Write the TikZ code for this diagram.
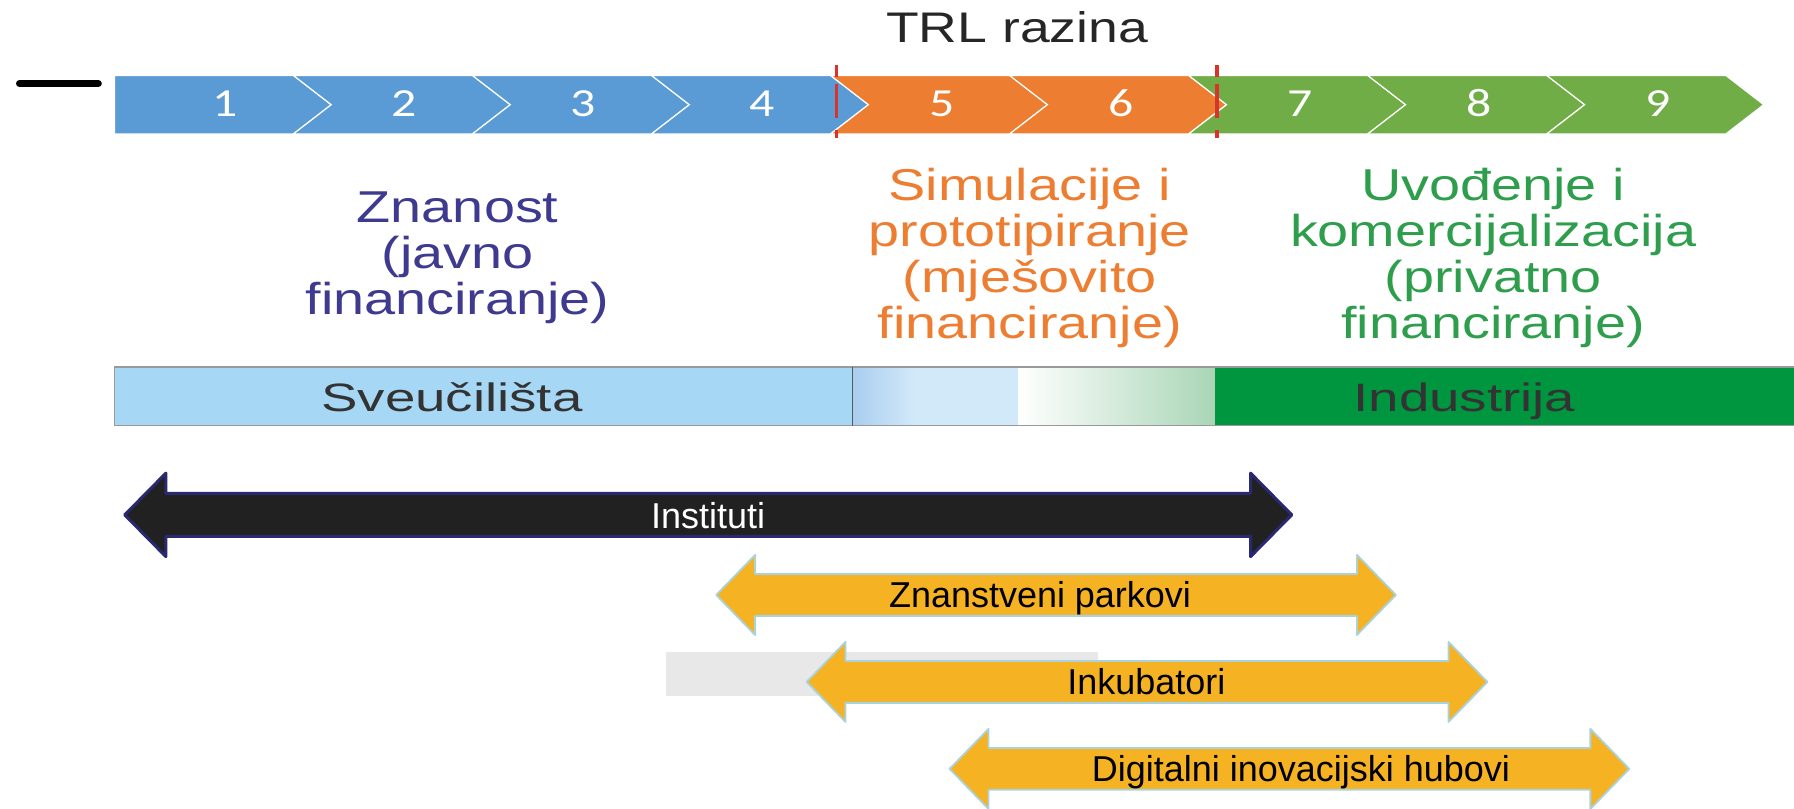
\documentclass[tikz,border=0pt]{standalone}
\usepackage{fontspec}
\setmainfont{Liberation Sans}
\newfontfamily\widefont[FakeStretch=1.25]{Liberation Sans}
\newfontfamily\barfont[FakeStretch=1.38]{Liberation Sans}
\newfontfamily\numfont[FakeStretch=1.25]{Carlito}
\definecolor{chevblue}{HTML}{5B9BD5}
\definecolor{chevorange}{HTML}{ED7D31}
\definecolor{chevgreen}{HTML}{70AD47}
\definecolor{sciencetext}{HTML}{3E3A8F}
\definecolor{industrytext}{HTML}{2E9E4C}
\definecolor{unifill}{HTML}{A6D8F5}
\definecolor{midblue}{HTML}{A9CDEF}
\definecolor{paleblue}{HTML}{D2E9F9}
\definecolor{palegreen}{HTML}{A9D5B6}
\definecolor{indfill}{HTML}{00963F}
\definecolor{arrowgold}{HTML}{F5B324}
\definecolor{arrowedge}{HTML}{A9D2DC}
\definecolor{navyedge}{HTML}{2A2970}
\definecolor{trlred}{HTML}{D9342B}
\tikzset{
  num/.style={text=white, anchor=base, inner sep=0, font=\numfont\fontsize{19.8}{22}\selectfont},
  phase/.style={align=center, anchor=base, inner sep=0, font=\widefont\fontsize{22.2}{22.8}\selectfont},
  bartext/.style={text=black!80, anchor=base, inner sep=0, font=\barfont\fontsize{19.7}{22}\selectfont},
  arrowlbl/.style={anchor=base, inner sep=0, font=\fontsize{17.9}{20}\selectfont},
  goldarrow/.style={fill=arrowgold, draw=arrowedge, line width=0.9pt, line join=round},
  trlline/.style={trlred, line width=1.8pt, dash pattern=on 5.7pt off 3.4pt on 17pt off 6.3pt on 4pt}
}
\begin{document}
\begin{tikzpicture}[x=0.02cm, y=-0.02cm]
  \useasboundingbox (0,0) rectangle (1568,707);
  \draw[line width=3.4pt, line cap=round] (17,73) -- (86,73);
  \node[font=\widefont\fontsize{21.3}{24}\selectfont, text=black!85, anchor=base, inner sep=0] (trl) at (889,37) {TRL razina};
  \foreach \i/\col in {1/chevblue,2/chevblue,3/chevblue,4/chevblue,5/chevorange,6/chevorange,7/chevgreen,8/chevgreen,9/chevgreen}{
    \pgfmathsetmacro\L{100+156.5*(\i-1)}
    \pgfmathsetmacro\notch{ifthenelse(\i==1,0,33)}
    \filldraw[fill=\col, draw=white, line width=0.6pt] (\L,66) -- ++(156.5,0) -- ++(33,25.5) -- ++(-33,25.5) -- ++(-156.5,0) -- ++(\notch,-25.5) -- cycle;
    \node[num] (lvl\i) at (\L+97,102) {\i};
  }
  \draw[trlline] (731,57) -- (731,124);
  \draw[trlline] (1063.5,57) -- (1063.5,124);
  \node[phase, text=sciencetext] (science) at (400,274.5) {Znanost\\(javno\\financiranje)};
  \node[phase, text=chevorange] (prototype) at (900,295.5) {Simulacije i\\prototipiranje\\(mješovito\\financiranje)};
  \node[phase, text=industrytext] (market) at (1305,295.5) {Uvođenje i\\komercijalizacija\\(privatno\\financiranje)};
  \fill[unifill] (100,321) rectangle (745,372);
  \shade[left color=midblue, right color=paleblue] (745,321) rectangle (800,372);
  \fill[paleblue] (800,321) rectangle (890,372);
  \shade[left color=white, right color=palegreen] (890,321) rectangle (1062,372);
  \fill[indfill] (1062,321) rectangle (1568,372);
  \draw[black!40, line width=0.8pt] (100,321) -- (1568,321) (100,372) -- (1568,372) (100,321) -- (100,372);
  \draw[black!65, line width=0.6pt] (745,321) -- (745,372);
  \node[bartext] (uni) at (395,359.7) {Sveučilišta};
  \node[bartext] (ind) at (1280,359.7) {Industrija};
  \filldraw[fill=black!87, draw=navyedge, line width=1.5pt, line join=round] (109,450) -- (145,413.5) -- (145,431.3) -- (1093,431.3) -- (1093,413.5) -- (1129,450) -- (1093,486.5) -- (1093,468.7) -- (145,468.7) -- (145,486.5) -- cycle;
  \node[arrowlbl, text=white] (inst) at (619,461.5) {Instituti};
  \fill[black!9] (582,570) rectangle (960,608);
  \foreach \xa/\xb/\yc/\xl/\txt/\nm in {626/1220/520/909/Znanstveni parkovi/parks, 705/1300/596/1002/Inkubatori/incub, 830/1424/672/1137/Digitalni inovacijski hubovi/hubs}{
    \filldraw[goldarrow] (\xa,\yc) -- (\xa+34,\yc-35) -- (\xa+34,\yc-18.3) -- (\xb-34,\yc-18.3) -- (\xb-34,\yc-35) -- (\xb,\yc) -- (\xb-34,\yc+35) -- (\xb-34,\yc+18.3) -- (\xa+34,\yc+18.3) -- (\xa+34,\yc+35) -- cycle;
    \node[arrowlbl] (\nm) at (\xl,\yc+11.3) {\txt};
  }
\end{tikzpicture}
\end{document}
